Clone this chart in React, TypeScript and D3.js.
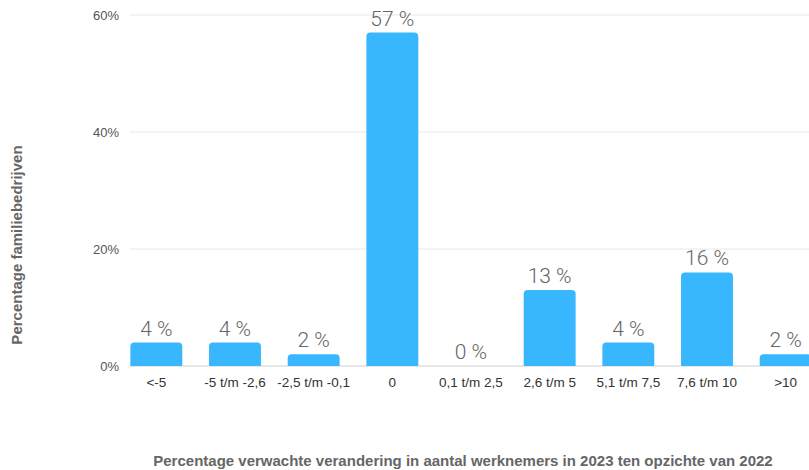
import React from "react";
import * as d3 from "d3";

const categories = ["<-5", "-5 t/m -2,6", "-2,5 t/m -0,1", "0", "0,1 t/m 2,5", "2,6 t/m 5", "5,1 t/m 7,5", "7,6 t/m 10", ">10"];
const values = [4, 4, 2, 57, 0, 13, 4, 16, 2];
const yTicks = [0, 20, 40, 60];

const W = 809;
const H = 470;
const barColor = "#38b6fe";

function roundedTopBar(x: number, y: number, w: number, h: number, r: number) {
  if (h <= 0) return "";
  const rr = Math.min(r, h, w / 2);
  return `M${x},${y + h} L${x},${y + rr} Q${x},${y} ${x + rr},${y} L${x + w - rr},${y} Q${x + w},${y} ${x + w},${y + rr} L${x + w},${y + h} Z`;
}

export default function App() {
  const x = d3.scaleBand<string>().domain(categories).range([117, 825]).paddingInner(0.34).paddingOuter(0.17);
  const y = d3.scaleLinear().domain([0, 60]).range([366, 15]);
  return (
    <svg width={W} height={H} style={{ position: "absolute", left: 0, top: 0, background: "#fff" }}>
      {yTicks.map((t) => (
        <g key={t}>
          <line x1={130} x2={W} y1={y(t)} y2={y(t)} stroke={t === 0 ? "#d0d0d0" : "#e8e8e8"} strokeWidth={1} />
          <text x={119} y={y(t) + 4.5} textAnchor="end" fontFamily="Liberation Sans, Arial, sans-serif" fontSize={13} fill="#555">
            {t}%
          </text>
        </g>
      ))}
      {categories.map((c, i) => {
        const bx = x(c)!;
        const bw = x.bandwidth();
        const v = values[i];
        const top = y(v);
        return (
          <g key={c}>
            <path d={roundedTopBar(bx, top, bw, y(0) - top, 4)} fill={barColor} />
            <text x={bx + bw / 2} y={top - 7} textAnchor="middle" fontFamily="Roboto, sans-serif" fontWeight={300} fontSize={21} fill="#666">
              {v} %
            </text>
            <text x={bx + bw / 2} y={387} textAnchor="middle" fontFamily="Liberation Sans, Arial, sans-serif" fontSize={13.5} fill="#333">
              {c}
            </text>
          </g>
        );
      })}
      <text
        transform={`translate(22,245) rotate(-90)`}
        textAnchor="middle"
        fontFamily="Liberation Sans, Arial, sans-serif"
        fontWeight="bold"
        fontSize={15}
        fill="#666"
      >
        Percentage familiebedrijven
      </text>
      <text x={463} y={466} textAnchor="middle" fontFamily="Liberation Sans, Arial, sans-serif" fontWeight="bold" fontSize={15} fill="#666">
        Percentage verwachte verandering in aantal werknemers in 2023 ten opzichte van 2022
      </text>
    </svg>
  );
}
